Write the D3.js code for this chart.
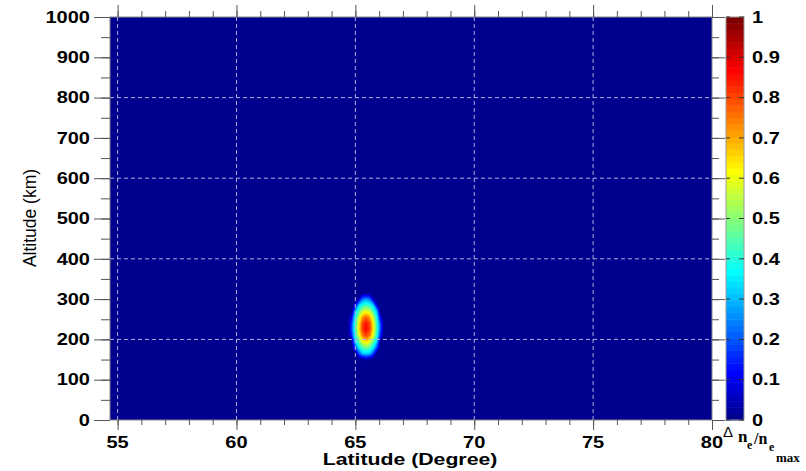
<!DOCTYPE html>
<html>
<head>
<meta charset="utf-8">
<script src="https://cdn.jsdelivr.net/npm/d3@7"></script>
<style>
  html, body { margin: 0; padding: 0; background: #fff; }
  svg { display: block; }
  text { font-family: "Liberation Sans", Arial, sans-serif; fill: #000; }
  text.serif { font-family: "Liberation Serif", "Times New Roman", serif; font-weight: bold; }
</style>
</head>
<body>
<svg id="chart" width="806" height="471"></svg>
<script>
// Axis ticks
const latTicks = [55, 60, 65, 70, 75, 80];
const altTicks = [0, 100, 200, 300, 400, 500, 600, 700, 800, 900, 1000];
const cbTicks = [0, 0.1, 0.2, 0.3, 0.4, 0.5, 0.6, 0.7, 0.8, 0.9, 1];
const cbTickLabels = ["0", "0.1", "0.2", "0.3", "0.4", "0.5", "0.6", "0.7", "0.8", "0.9", "1"];

// Sample grid of the normalised density perturbation (Δne/ne_max)
const gridLat = [64.55, 64.70, 64.85, 65.00, 65.15, 65.30, 65.45, 65.60, 65.75, 65.90, 66.05, 66.20, 66.35];
const gridAlt = [120, 135, 150, 165, 180, 195, 210, 225, 240, 255, 270, 285, 300, 315, 330, 345];
const dne = [
  [0, 0, 0, 0, 0, 0, 0, 0, 0, 0, 0, 0, 0],
  [0, 0, 0, 0, 0, 0, 0, 0, 0, 0, 0, 0, 0],
  [0, 0, 0, 0, 0, .01, .03, .01, 0, 0, 0, 0, 0],
  [0, 0, 0, 0, .19, .31, .33, .31, .19, 0, 0, 0, 0],
  [0, 0, 0, .19, .36, .45, .49, .45, .36, .19, 0, 0, 0],
  [0, 0, .01, .33, .47, .60, .66, .60, .47, .33, .01, 0, 0],
  [0, 0, .15, .40, .58, .75, .81, .75, .58, .40, .15, 0, 0],
  [0, 0, .20, .43, .64, .81, .87, .81, .64, .43, .20, 0, 0],
  [0, 0, .19, .42, .62, .80, .85, .80, .62, .42, .19, 0, 0],
  [0, 0, .10, .38, .56, .71, .77, .71, .56, .38, .10, 0, 0],
  [0, 0, 0, .30, .44, .56, .60, .56, .44, .30, 0, 0, 0],
  [0, 0, 0, .08, .32, .40, .43, .40, .32, .08, 0, 0, 0],
  [0, 0, 0, 0, .05, .23, .27, .23, .05, 0, 0, 0, 0],
  [0, 0, 0, 0, 0, 0, 0, 0, 0, 0, 0, 0, 0],
  [0, 0, 0, 0, 0, 0, 0, 0, 0, 0, 0, 0, 0],
  [0, 0, 0, 0, 0, 0, 0, 0, 0, 0, 0, 0, 0]
];

const NLEV = 64;

// MATLAB-style jet colormap entry k (1..n) for n = 64
function jet(k) {
  let r, g, b;
  if (k <= 24) r = 0; else if (k <= 40) r = (k - 24) / 16; else if (k <= 56) r = 1; else r = 1 - (k - 56) / 16;
  if (k <= 8) g = 0; else if (k <= 24) g = (k - 8) / 16; else if (k <= 40) g = 1; else if (k <= 56) g = 1 - (k - 40) / 16; else g = 0;
  if (k <= 8) b = 0.5 + k / 16; else if (k <= 24) b = 1; else if (k <= 40) b = 1 - (k - 24) / 16; else b = 0;
  return d3.rgb(Math.round(r * 255), Math.round(g * 255), Math.round(b * 255)).toString();
}

const svg = d3.select("#chart");
const L = 110, R = 712, T = 17, B = 420;

const x = d3.scaleLinear().domain([54.68, 80]).range([L, R]);
const y = d3.scaleLinear().domain([0, 1000]).range([B, T]);
const cb = d3.scaleLinear().domain([0, 1]).range([B, T]);

// Plot background = lowest colour level
svg.append("rect").attr("x", L).attr("y", T).attr("width", R - L).attr("height", B - T)
  .attr("fill", jet(1));

// Filled contours
const nx = gridLat.length, ny = gridAlt.length;
const values = [];
for (let j = 0; j < ny; j++) for (let i = 0; i < nx; i++) values.push(dne[j][i]);
const thresholds = d3.range(1, NLEV).map(k => k / NLEV);
const contours = d3.contours().size([nx, ny]).thresholds(thresholds)(values);
const dLat = gridLat[1] - gridLat[0], dAlt = gridAlt[1] - gridAlt[0];
const proj = d3.geoTransform({
  point(gx, gy) {
    this.stream.point(x(gridLat[0] + (gx - 0.5) * dLat), y(gridAlt[0] + (gy - 0.5) * dAlt));
  }
});
const path = d3.geoPath(proj);
svg.append("clipPath").attr("id", "plotclip").append("rect")
  .attr("x", L).attr("y", T).attr("width", R - L).attr("height", B - T);
svg.append("g").attr("clip-path", "url(#plotclip)")
  .selectAll("path").data(contours).join("path")
  .attr("d", path)
  .attr("fill", d => jet(Math.min(NLEV, Math.round(d.value * NLEV) + 1)))
  .attr("stroke", "none");

// Grid lines
const grid = svg.append("g");
grid.selectAll("line.v").data(latTicks.filter(v => v < 80)).join("line")
  .attr("x1", d => x(d)).attr("x2", d => x(d)).attr("y1", T).attr("y2", B)
  .attr("stroke", "#b0b0e0").attr("stroke-width", 1).attr("stroke-dasharray", "4,3");
grid.selectAll("line.h").data(altTicks.filter(v => v > 0 && v < 1000 && v % 200 === 0)).join("line")
  .attr("x1", L).attr("x2", R).attr("y1", d => y(d)).attr("y2", d => y(d))
  .attr("stroke", "#b0b0e0").attr("stroke-width", 1).attr("stroke-dasharray", "4,3");

// Frame
svg.append("rect").attr("x", L).attr("y", T).attr("width", R - L).attr("height", B - T)
  .attr("fill", "none").attr("stroke", "#888").attr("stroke-width", 1);

// Axes (tick marks only; labels drawn separately)
const latMinor = d3.range(55, 80.01, 1);
const altMinor = d3.range(0, 1000.01, 50);
const tickColor = "#555";

svg.append("g").attr("transform", `translate(0,${B})`)
  .call(d3.axisBottom(x).tickValues(latMinor).tickSize(5).tickFormat(""))
  .call(g => g.select(".domain").remove());
svg.append("g").attr("transform", `translate(0,${B})`)
  .call(d3.axisBottom(x).tickValues(latTicks).tickSize(10).tickFormat(""))
  .call(g => g.select(".domain").remove());
svg.append("g").attr("transform", `translate(0,${T})`)
  .call(d3.axisTop(x).tickValues(latMinor).tickSize(6).tickFormat(""))
  .call(g => g.select(".domain").remove());
svg.append("g").attr("transform", `translate(0,${T})`)
  .call(d3.axisTop(x).tickValues(latTicks).tickSize(12).tickFormat(""))
  .call(g => g.select(".domain").remove());
svg.append("g").attr("transform", `translate(${L},0)`)
  .call(d3.axisLeft(y).tickValues(altMinor).tickSize(9).tickFormat(""))
  .call(g => g.select(".domain").remove());
svg.append("g").attr("transform", `translate(${L},0)`)
  .call(d3.axisLeft(y).tickValues(altTicks).tickSize(16).tickFormat(""))
  .call(g => g.select(".domain").remove());
svg.append("g").attr("transform", `translate(${R},0)`)
  .call(d3.axisRight(y).tickValues(altMinor).tickSize(7).tickFormat(""))
  .call(g => g.select(".domain").remove());
svg.append("g").attr("transform", `translate(${R},0)`)
  .call(d3.axisRight(y).tickValues(altTicks).tickSize(13).tickFormat(""))
  .call(g => g.select(".domain").remove());
svg.selectAll(".tick line").attr("stroke", tickColor);

// Tick labels (bold, slightly widened)
svg.append("g").selectAll("g").data(altTicks).join("g")
  .attr("transform", d => `translate(90,${y(d)}) scale(1.25,1)`)
  .append("text").attr("text-anchor", "end").attr("dy", "0.36em")
  .attr("font-size", 16).attr("font-weight", "bold").text(d => d);
svg.append("g").selectAll("g").data(latTicks).join("g")
  .attr("transform", d => `translate(${x(d)},448) scale(1.25,1)`)
  .append("text").attr("text-anchor", "middle")
  .attr("font-size", 16).attr("font-weight", "bold").text(d => d);

// Axis titles
svg.append("g").attr("transform", "translate(410,465) scale(1.25,1)")
  .append("text").attr("text-anchor", "middle").attr("font-size", 17).attr("font-weight", "bold")
  .text("Latitude (Degree)");
svg.append("g").attr("transform", "translate(36,218) rotate(-90)")
  .append("text").attr("text-anchor", "middle").attr("font-size", 17.5)
  .text("Altitude (km)");

// Colour bar
const CBX = 726, CBW = 18;
const cbG = svg.append("g");
cbG.selectAll("rect").data(d3.range(NLEV)).join("rect")
  .attr("x", CBX).attr("width", CBW)
  .attr("y", k => cb((k + 1) / NLEV)).attr("height", k => cb(k / NLEV) - cb((k + 1) / NLEV) + 0.5)
  .attr("fill", k => jet(k + 1));
cbG.append("rect").attr("x", CBX).attr("y", T).attr("width", CBW).attr("height", B - T)
  .attr("fill", "none").attr("stroke", "#999").attr("stroke-width", 1);
cbG.selectAll("line.l").data(cbTicks).join("line")
  .attr("x1", CBX).attr("x2", CBX + 4).attr("y1", d => cb(d)).attr("y2", d => cb(d))
  .attr("stroke", "#333");
cbG.selectAll("line.r").data(cbTicks).join("line")
  .attr("x1", CBX + CBW - 5).attr("x2", CBX + CBW).attr("y1", d => cb(d)).attr("y2", d => cb(d))
  .attr("stroke", "#333");
cbG.selectAll("g.lab").data(cbTicks).join("g")
  .attr("transform", d => `translate(752,${cb(d)}) scale(1.25,1)`)
  .append("text").attr("dy", "0.36em").attr("font-size", 16).attr("font-weight", "bold")
  .text((d, i) => cbTickLabels[i]);

// Colour bar title: Δ n_e / n_e_max
const t = svg.append("g");
t.append("text").attr("x", 723).attr("y", 437).attr("font-size", 15).text("Δ");
t.append("text").attr("class", "serif").attr("x", 738).attr("y", 442).attr("font-size", 17).text("n");
t.append("text").attr("class", "serif").attr("x", 747).attr("y", 449).attr("font-size", 12).text("e");
t.append("text").attr("class", "serif").attr("x", 754).attr("y", 444).attr("font-size", 16).text("/n");
t.append("text").attr("class", "serif").attr("x", 769).attr("y", 451).attr("font-size", 12).text("e");
t.append("text").attr("class", "serif").attr("x", 776).attr("y", 462).attr("font-size", 13).text("max");
</script>
</body>
</html>
